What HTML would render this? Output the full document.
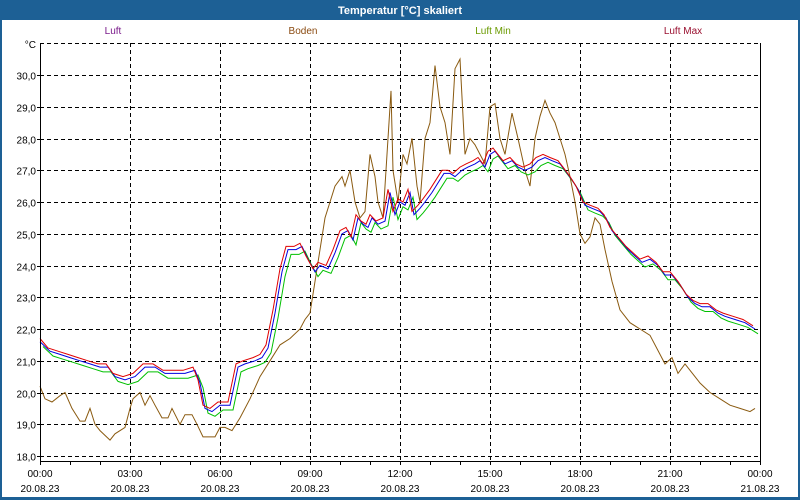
<!DOCTYPE html>
<html><head><meta charset="utf-8"><style>
html,body{margin:0;padding:0;background:#fff}
svg{display:block;font-family:"Liberation Sans",sans-serif}
</style></head><body>
<svg id="s" width="800" height="500" viewBox="0 0 800 500" xmlns="http://www.w3.org/2000/svg">
<rect x="0" y="0" width="800" height="500" fill="#1d6095"/>
<rect x="2" y="20" width="796" height="477" fill="#fff"/>
<text x="400" y="14" fill="#fff" font-size="11" font-weight="bold" text-anchor="middle">Temperatur [°C] skaliert</text>
<g font-size="10" text-anchor="middle">
<text x="113" y="34" fill="#7a1a8a">Luft</text>
<text x="303" y="34" fill="#8a4a10">Boden</text>
<text x="493" y="34" fill="#6a9a00">Luft Min</text>
<text x="683" y="34" fill="#9a1030">Luft Max</text>
</g>
<g id="grid" stroke="#000" stroke-width="1" stroke-dasharray="4,3" fill="none"></g>
<g id="series" fill="none" stroke-width="1"></g>
<g id="axes" stroke="#000" stroke-width="1" fill="none"></g>
<g id="labels" font-size="10" fill="#000"></g>
</svg>
<script>
var NS="http://www.w3.org/2000/svg";
function el(p,t,a,txt){var e=document.createElementNS(NS,t);for(var k in a)e.setAttribute(k,a[k]);if(txt!=null)e.textContent=txt;document.getElementById(p).appendChild(e);return e;}
function Y(t){return 75+(30-t)*31.75;}
for(var t=18;t<=31;t++){var y=Math.round(Y(t))+0.5;el("grid","line",{x1:40,x2:760,y1:y,y2:y});}
for(var i=1;i<8;i++){var x=40+i*90+0.5;el("grid","line",{x1:x,x2:x,y1:43,y2:461});}
el("axes","line",{x1:40.5,x2:40.5,y1:43,y2:462});
el("axes","line",{x1:760.5,x2:760.5,y1:43,y2:462});
el("axes","line",{x1:40,x2:761,y1:461.5,y2:461.5});
for(var i=0;i<=24;i++){var x=40+i*30+0.5;el("axes","line",{x1:x,x2:x,y1:461,y2:465});}
for(var t=18;t<=30;t++){var y=Math.round(Y(t))+0.5;el("axes","line",{x1:37,x2:40,y1:y,y2:y});
 el("labels","text",{x:36,y:y+4,"text-anchor":"end"},t.toFixed(1).replace(".",","));}
el("labels","text",{x:36,y:48,"text-anchor":"end"},"°C");
var tl=["00:00","03:00","06:00","09:00","12:00","15:00","18:00","21:00","00:00"];
for(var i=0;i<9;i++){var x=40+i*90;el("labels","text",{x:x,y:477,"text-anchor":"middle"},tl[i]);
 el("labels","text",{x:x,y:492,"text-anchor":"middle"},i==8?"21.08.23":"20.08.23");}
var blue=[[40,21.6],[50,21.3],[60,21.2],[70,21.1],[80,21.0],[90,20.9],[100,20.8],[108,20.8],[115,20.5],[125,20.4],[135,20.5],[145,20.8],[155,20.8],[165,20.6],[175,20.6],[185,20.6],[195,20.7],[200,20.3],[205,19.5],[212,19.4],[220,19.6],[230,19.6],[238,20.8],[245,20.9],[255,21.0],[262,21.1],[268,21.4],[275,22.5],[282,23.8],[288,24.5],[296,24.5],[302,24.6],[308,24.2],[315,23.8],[320,24.0],[328,23.9],[335,24.4],[342,25.0],[348,25.1],[353,24.8],[358,25.5],[363,25.3],[368,25.2],[372,25.5],[378,25.3],[385,25.4],[390,26.3],[395,25.6],[400,26.0],[405,25.9],[410,26.3],[414,25.6],[420,25.8],[425,26.0],[432,26.3],[438,26.6],[444,26.9],[450,26.9],[455,26.8],[462,27.0],[468,27.1],[475,27.2],[480,27.3],[485,27.1],[490,27.5],[495,27.6],[500,27.4],[505,27.2],[512,27.3],[518,27.1],[525,27.0],[532,27.1],[538,27.3],[545,27.4],[552,27.3],[560,27.2],[565,27.0],[572,26.7],[578,26.4],[585,25.9],[592,25.8],[600,25.7],[606,25.5],[612,25.1],[620,24.8],[628,24.5],[635,24.3],[642,24.1],[650,24.2],[658,24.0],[665,23.7],[672,23.7],[680,23.4],[688,23.0],[695,22.8],[702,22.7],[710,22.7],[718,22.5],[725,22.4],[735,22.3],[745,22.2],[755,22.0]];
var brown=[[40,20.2],[45,19.8],[52,19.7],[60,19.9],[65,20.0],[72,19.5],[80,19.1],[85,19.1],[90,19.5],[95,19.0],[100,18.8],[110,18.5],[115,18.7],[125,18.9],[130,19.5],[133,19.8],[140,20.0],[145,19.6],[150,19.9],[155,19.6],[162,19.2],[168,19.2],[172,19.5],[180,19.0],[185,19.3],[192,19.3],[197,19.0],[203,18.6],[210,18.6],[215,18.6],[220,18.9],[225,18.9],[232,18.8],[240,19.2],[250,19.8],[260,20.5],[270,21.0],[280,21.5],[290,21.7],[300,22.0],[305,22.3],[310,22.5],[315,23.5],[320,24.5],[325,25.5],[330,26.0],[335,26.5],[342,26.8],[345,26.5],[350,27.0],[355,26.0],[360,25.5],[365,25.7],[370,27.5],[375,26.8],[378,26.0],[383,25.5],[388,28.0],[391,29.5],[393,27.0],[398,26.0],[403,27.5],[407,27.2],[412,28.0],[417,26.5],[420,26.0],[425,28.0],[430,28.5],[435,30.3],[440,29.0],[445,28.5],[450,27.5],[455,30.2],[460,30.5],[465,27.5],[470,28.0],[475,27.8],[480,27.5],[485,27.2],[490,29.0],[495,29.1],[500,28.0],[505,27.5],[512,28.8],[518,28.0],[525,27.0],[530,26.5],[535,28.0],[540,28.7],[545,29.2],[550,28.8],[555,28.5],[560,28.0],[565,27.5],[570,26.8],[575,26.0],[580,25.0],[585,24.7],[590,24.9],[595,25.5],[600,25.3],[605,24.5],[612,23.5],[620,22.6],[630,22.2],[640,22.0],[650,21.8],[660,21.2],[665,20.9],[672,21.1],[678,20.6],[685,20.9],[690,20.7],[700,20.3],[710,20.0],[720,19.8],[730,19.6],[740,19.5],[750,19.4],[755,19.5]];
function pts(a,dx,dt){return a.map(function(p){return Math.max(40,Math.min(760,p[0]+dx)).toFixed(1)+","+Y(p[1]+dt).toFixed(1);}).join(" ");}
el("series","polyline",{points:pts(brown,0,0),stroke:"#8a5a10"});
el("series","polyline",{points:pts(blue,3,-0.15),stroke:"#00c000"});
el("series","polyline",{points:pts(blue,0,0),stroke:"#0000e0"});
el("series","polyline",{points:pts(blue,-2,0.1),stroke:"#e00000"});
</script>
</body></html>
